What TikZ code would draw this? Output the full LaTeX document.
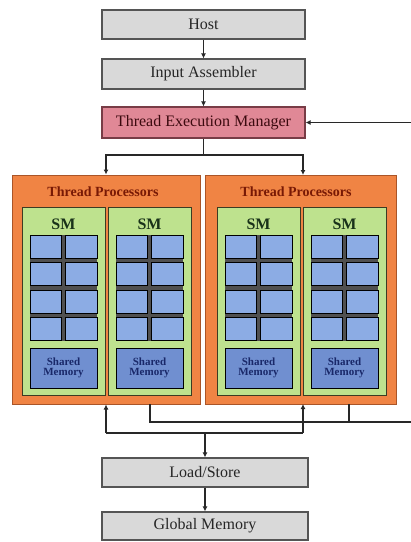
\documentclass[tikz,border=0pt]{standalone}
\usepackage{fontspec}
\setmainfont{Liberation Serif}
\usetikzlibrary{arrows.meta}
\definecolor{boxgray}{RGB}{217,217,217}
\definecolor{boxline}{RGB}{85,85,85}
\definecolor{tempink}{RGB}{224,136,150}
\definecolor{temline}{RGB}{120,60,70}
\definecolor{orangefill}{RGB}{240,132,68}
\definecolor{orangeline}{RGB}{170,85,40}
\definecolor{smgreen}{RGB}{190,226,142}
\definecolor{smline}{RGB}{60,60,35}
\definecolor{cellblue}{RGB}{140,172,228}
\definecolor{shmblue}{RGB}{112,143,208}
\definecolor{gridgray}{RGB}{80,80,80}
\definecolor{tptext}{RGB}{120,25,5}
\definecolor{smtext}{RGB}{25,50,25}
\definecolor{shtext}{RGB}{25,40,105}
\definecolor{wire}{RGB}{40,40,40}
\tikzset{
  graybox/.style={draw=boxline, line width=1.2pt, fill=boxgray, minimum width=203pt, minimum height=29pt, inner sep=0pt, font=\fontsize{16}{18}\selectfont, text=black!85},
  tembox/.style={graybox, fill=tempink, draw=temline, text={rgb,255:red,60;green,10;blue,15}},
  tpbox/.style={draw=orangeline, line width=1pt, fill=orangefill, minimum width=188pt, minimum height=229pt, inner sep=0pt},
  smbox/.style={draw=smline, line width=1pt, fill=smgreen},
  cellbox/.style={draw=black, line width=1pt, fill=cellblue},
  shmbox/.style={draw=black, line width=1pt, fill=shmblue},
  tplabel/.style={font=\bfseries\fontsize{14}{16}\selectfont, text=tptext},
  smlabel/.style={font=\bfseries\fontsize{16}{18}\selectfont, text=smtext},
  shlabel/.style={font=\bfseries\fontsize{11}{12}\selectfont, text=shtext, align=center},
  wireline/.style={draw=wire, line width=1.1pt},
  arr/.style={wireline, -{Latex[length=5pt,width=5pt]}}
}
\begin{document}
\begin{tikzpicture}[x=1pt,y=-1pt]
\useasboundingbox (0,0) rectangle (411,542);
\fill[white] (0,0) rectangle (411,542);
% top boxes
\node[graybox] (host) at (203.5,24.5) {Host};
\node[graybox, minimum height=30pt] (ia) at (203.5,74) {Input Assembler};
\node[tembox, minimum height=31pt] (tem) at (203.5,122.5) {Thread Execution Manager};
% thread processor panels
\node[tpbox] (tpL) at (106,289.5) {};
\node[tpbox, minimum width=191pt] (tpR) at (300.5,289.5) {};
\node[tplabel] (tpLt) at (103,192) {Thread Processors};
\node[tplabel] (tpRt) at (296,192) {Thread Processors};
% SMs
\foreach \xo/\nm in {22/a,108/b,217/c,303/d}{
  \draw[smbox] (\xo,207) rectangle (\xo+83,395);
  \node[smlabel] (sm\nm) at (\xo+41.5,224) {SM};
  \fill[gridgray] (\xo+8,235) rectangle (\xo+75,340.5);
  \foreach \r in {0,1,2,3}{
    \foreach \c in {0,1}{
      \draw[cellbox] (\xo+8+\c*35.5,235+\r*27.5) rectangle (\xo+39.5+\c*35.5,258+\r*27.5);
    }
  }
  \draw[shmbox] (\xo+8,348) rectangle (\xo+75,388);
  \node[shlabel] (sh\nm) at (\xo+41.5,368) {Shared\\[-2pt]Memory};
}
% bottom boxes
\node[graybox, minimum width=206pt] (ls) at (205,472.5) {Load/Store};
\node[graybox, minimum width=206pt, minimum height=28pt] (gm) at (205,526) {Global Memory};
% coordinates
\coordinate (rin) at (411,122.5);
\coordinate (split) at (203.5,155);
\coordinate (tpRin) at (303,175);
\coordinate (tpRout) at (303,404);
\coordinate (bjoin) at (205,433);
\coordinate (bL) at (106,433);
\coordinate (bR) at (303,433);
\coordinate (fbL) at (150,404);
\coordinate (fbR) at (349,404);
\coordinate (fbLc) at (150,422);
\coordinate (fbRc) at (349,422);
\coordinate (fbend) at (411,422);
% connectors
\draw[arr] (host) -- (ia);
\draw[arr] (ia) -- (tem);
\draw[arr] (rin) -- (tem.east);
\draw[wireline] (tem.south) -- (split);
\draw[arr] (split) -| (tpL.north);
\draw[arr] (split) -| (tpRin);
\draw[wireline] (bL) -- (bR);
\draw[arr] (bL) -- (tpL.south);
\draw[arr] (bR) -- (tpRout);
\draw[arr] (bjoin) -- (ls);
\draw[arr] (ls) -- (gm);
\draw[wireline] (fbL) -- (fbLc) -- (fbend);
\draw[wireline] (fbR) -- (fbRc);
\end{tikzpicture}
\end{document}
